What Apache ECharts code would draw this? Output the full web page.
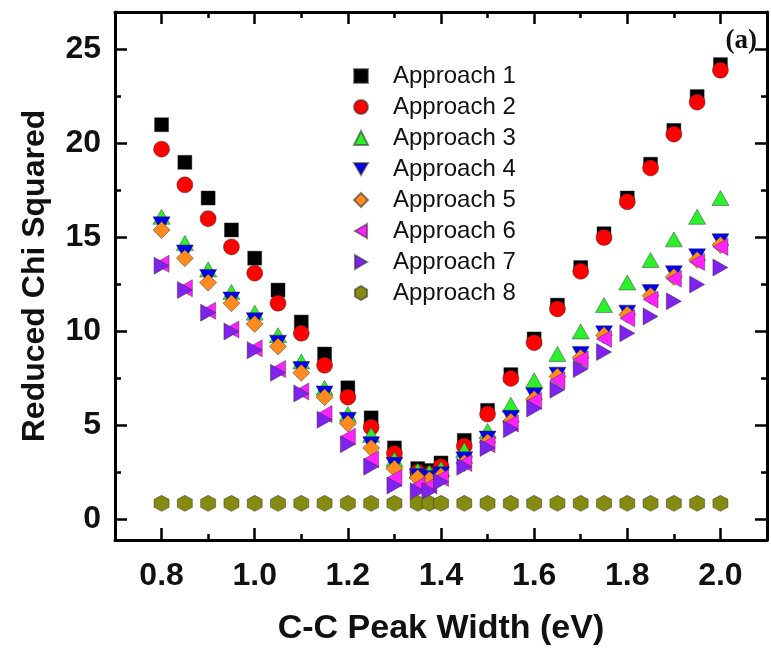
<!DOCTYPE html>
<html>
<head>
<meta charset="utf-8">
<script src="https://cdn.jsdelivr.net/npm/echarts@6/dist/echarts.min.js"></script>
<style>
  html, body { margin: 0; padding: 0; background: #fff; }
  #chart { width: 771px; height: 648px; }
</style>
</head>
<body>
<div id="chart"></div>
<script>
// C-C peak width (eV) sampled for every approach
const peakWidths = [0.8, 0.85, 0.9, 0.95, 1.0, 1.05, 1.1, 1.15, 1.2, 1.25, 1.3, 1.35, 1.375, 1.4,
                    1.45, 1.5, 1.55, 1.6, 1.65, 1.7, 1.75, 1.8, 1.85, 1.9, 1.95, 2.0];

// Reduced chi squared for each fitting approach
const approach1 = [21.0, 19.0, 17.1, 15.4, 13.9, 12.2, 10.5, 8.8, 7.0, 5.4, 3.8, 2.7, 2.6, 3.0,
                   4.2, 5.8, 7.7, 9.6, 11.4, 13.4, 15.2, 17.1, 18.9, 20.7, 22.5, 24.2];
const approach2 = [19.7, 17.8, 16.0, 14.5, 13.1, 11.5, 9.9, 8.2, 6.5, 4.9, 3.5, 2.5, 2.4, 2.8,
                   3.9, 5.6, 7.5, 9.4, 11.2, 13.2, 15.0, 16.9, 18.7, 20.5, 22.2, 23.9];
const approach3 = [16.1, 14.7, 13.3, 12.1, 11.0, 9.8, 8.4, 7.0, 5.6, 4.5, 3.2, 2.6, 2.5, 2.7,
                   3.7, 4.7, 6.1, 7.4, 8.8, 10.0, 11.4, 12.6, 13.8, 14.9, 16.1, 17.1];
const approach4 = [15.7, 14.2, 12.9, 11.7, 10.6, 9.4, 8.0, 6.7, 5.3, 4.0, 2.9, 2.3, 2.2, 2.4,
                   3.2, 4.3, 5.4, 6.6, 7.7, 8.8, 9.9, 11.0, 12.1, 13.1, 14.0, 14.8];
const approach5 = [15.4, 13.9, 12.6, 11.5, 10.4, 9.2, 7.8, 6.5, 5.1, 3.8, 2.7, 2.2, 2.1, 2.3,
                   3.0, 4.1, 5.2, 6.4, 7.6, 8.6, 9.8, 10.9, 11.9, 12.9, 13.8, 14.6];
const approach6 = [13.6, 12.3, 11.1, 10.1, 9.1, 8.0, 6.8, 5.6, 4.4, 3.2, 2.2, 1.8, 1.8, 2.2,
                   3.0, 4.0, 5.1, 6.3, 7.4, 8.5, 9.6, 10.7, 11.7, 12.8, 13.7, 14.5];
const approach7 = [13.5, 12.2, 11.0, 10.0, 9.0, 7.8, 6.7, 5.3, 4.0, 2.8, 1.8, 1.5, 1.5, 2.0,
                   2.8, 3.8, 4.8, 5.9, 6.9, 8.0, 8.9, 9.9, 10.8, 11.6, 12.5, 13.4];
const approach8 = [0.85, 0.85, 0.85, 0.85, 0.85, 0.85, 0.85, 0.85, 0.85, 0.85, 0.85, 0.85, 0.85, 0.85,
                   0.85, 0.85, 0.85, 0.85, 0.85, 0.85, 0.85, 0.85, 0.85, 0.85, 0.85, 0.85];

const seriesNames = ['Approach 1', 'Approach 2', 'Approach 3', 'Approach 4',
                     'Approach 5', 'Approach 6', 'Approach 7', 'Approach 8'];

// Tick positions
const xMajorTicks = [0.8, 1.0, 1.2, 1.4, 1.6, 1.8, 2.0];
const xMinorTicks = [0.9, 1.1, 1.3, 1.5, 1.7, 1.9];
const yMajorTicks = [0, 5, 10, 15, 20, 25];
const yMinorTicks = [2.5, 7.5, 12.5, 17.5, 22.5];

const allSeriesValues = [approach1, approach2, approach3, approach4,
                         approach5, approach6, approach7, approach8];

const markerStyles = [
  { symbol: 'rect', size: 14, color: '#000000' },
  { symbol: 'circle', size: 16, color: '#ff0000' },
  { symbol: 'triangle', size: [17, 15], color: '#2cf02c' },
  { symbol: 'path://M0,0L2,0L1,1.732Z', size: [17, 15], color: '#0000ee' },
  { symbol: 'diamond', size: [17, 17], color: '#ff8a1e' },
  { symbol: 'path://M0,1L1.732,0L1.732,2Z', size: [15, 17], color: '#ff22ff' },
  { symbol: 'path://M0,0L1.732,1L0,2Z', size: [15, 17], color: '#7f22ee' },
  { symbol: 'path://M1,0L1.866,0.5L1.866,1.5L1,2L0.134,1.5L0.134,0.5Z', size: [15, 16], color: '#858a10' }
];

const FONT = '"Liberation Sans", Arial, Helvetica, sans-serif';
const X_MIN = 0.7, X_MAX = 2.1, Y_MIN = -1.1, Y_MAX = 27;

function xAxisDef(position, ticks, tickLen, withLine, withLabels) {
  return {
    type: 'value', position: position, min: X_MIN, max: X_MAX,
    axisLine: { show: withLine, onZero: false, lineStyle: { color: '#000', width: 3 } },
    axisTick: { show: true, inside: true, length: tickLen, customValues: ticks,
                lineStyle: { color: '#000', width: 2.5 } },
    axisLabel: withLabels ? {
      show: true, customValues: ticks, margin: 20,
      fontFamily: FONT, fontSize: 32, fontWeight: 'bold', color: '#111',
      formatter: v => v.toFixed(1)
    } : { show: false },
    splitLine: { show: false }
  };
}

function yAxisDef(position, ticks, tickLen, withLine, withLabels) {
  return {
    type: 'value', position: position, min: Y_MIN, max: Y_MAX,
    axisLine: { show: withLine, onZero: false, lineStyle: { color: '#000', width: 3 } },
    axisTick: { show: true, inside: true, length: tickLen, customValues: ticks,
                lineStyle: { color: '#000', width: 2.5 } },
    axisLabel: withLabels ? {
      show: true, customValues: ticks, margin: 14,
      fontFamily: FONT, fontSize: 32, fontWeight: 'bold', color: '#111',
      formatter: v => String(v)
    } : { show: false },
    splitLine: { show: false }
  };
}

const xAxes = [
  xAxisDef('bottom', xMajorTicks, 12, true, true),
  xAxisDef('bottom', xMinorTicks, 6, false, false),
  xAxisDef('top', xMajorTicks, 12, true, false),
  xAxisDef('top', xMinorTicks, 6, false, false)
];
Object.assign(xAxes[0], {
  name: 'C-C Peak Width (eV)', nameLocation: 'middle', nameGap: 72,
  nameTextStyle: { fontFamily: FONT, fontSize: 34, fontWeight: 'bold', color: '#111' }
});

const yAxes = [
  yAxisDef('left', yMajorTicks, 12, true, true),
  yAxisDef('left', yMinorTicks, 6, false, false),
  yAxisDef('right', yMajorTicks, 12, true, false),
  yAxisDef('right', yMinorTicks, 6, false, false)
];
Object.assign(yAxes[0], {
  name: 'Reduced Chi Squared', nameLocation: 'middle', nameGap: 64,
  nameTextStyle: { fontFamily: FONT, fontSize: 32, fontWeight: 'bold', color: '#111' }
});

const series = seriesNames.map((name, k) => ({
  name: name,
  type: 'scatter',
  xAxisIndex: 0,
  yAxisIndex: 0,
  symbol: markerStyles[k].symbol,
  symbolSize: markerStyles[k].size,
  itemStyle: {
    color: markerStyles[k].color,
    borderColor: 'rgba(40,40,40,0.55)',
    borderWidth: 0.8,
    opacity: 1
  },
  emphasis: { disabled: true },
  data: peakWidths.map((w, i) => [w, allSeriesValues[k][i]])
}));

const chart = echarts.init(document.getElementById('chart'), null, { renderer: 'canvas' });
chart.setOption({
  animation: false,
  backgroundColor: '#ffffff',
  grid: { left: 115, right: 4, top: 12, bottom: 108, containLabel: false, outerBoundsMode: 'none' },
  xAxis: xAxes,
  yAxis: yAxes,
  legend: {
    orient: 'vertical',
    left: 348,
    top: 59,
    itemWidth: 14,
    itemHeight: 14,
    itemGap: 7,
    data: seriesNames,
    textStyle: { fontFamily: FONT, fontSize: 24, lineHeight: 24, color: '#111',
                 padding: [0, 0, 0, 20] }
  },
  graphic: [{
    type: 'text',
    right: 14,
    top: 28,
    style: { text: '(a)', fontFamily: '"Liberation Serif", "Times New Roman", serif',
             fontSize: 27, fontWeight: 'bold', fill: '#111' }
  }],
  series: series
});
</script>
</body>
</html>
